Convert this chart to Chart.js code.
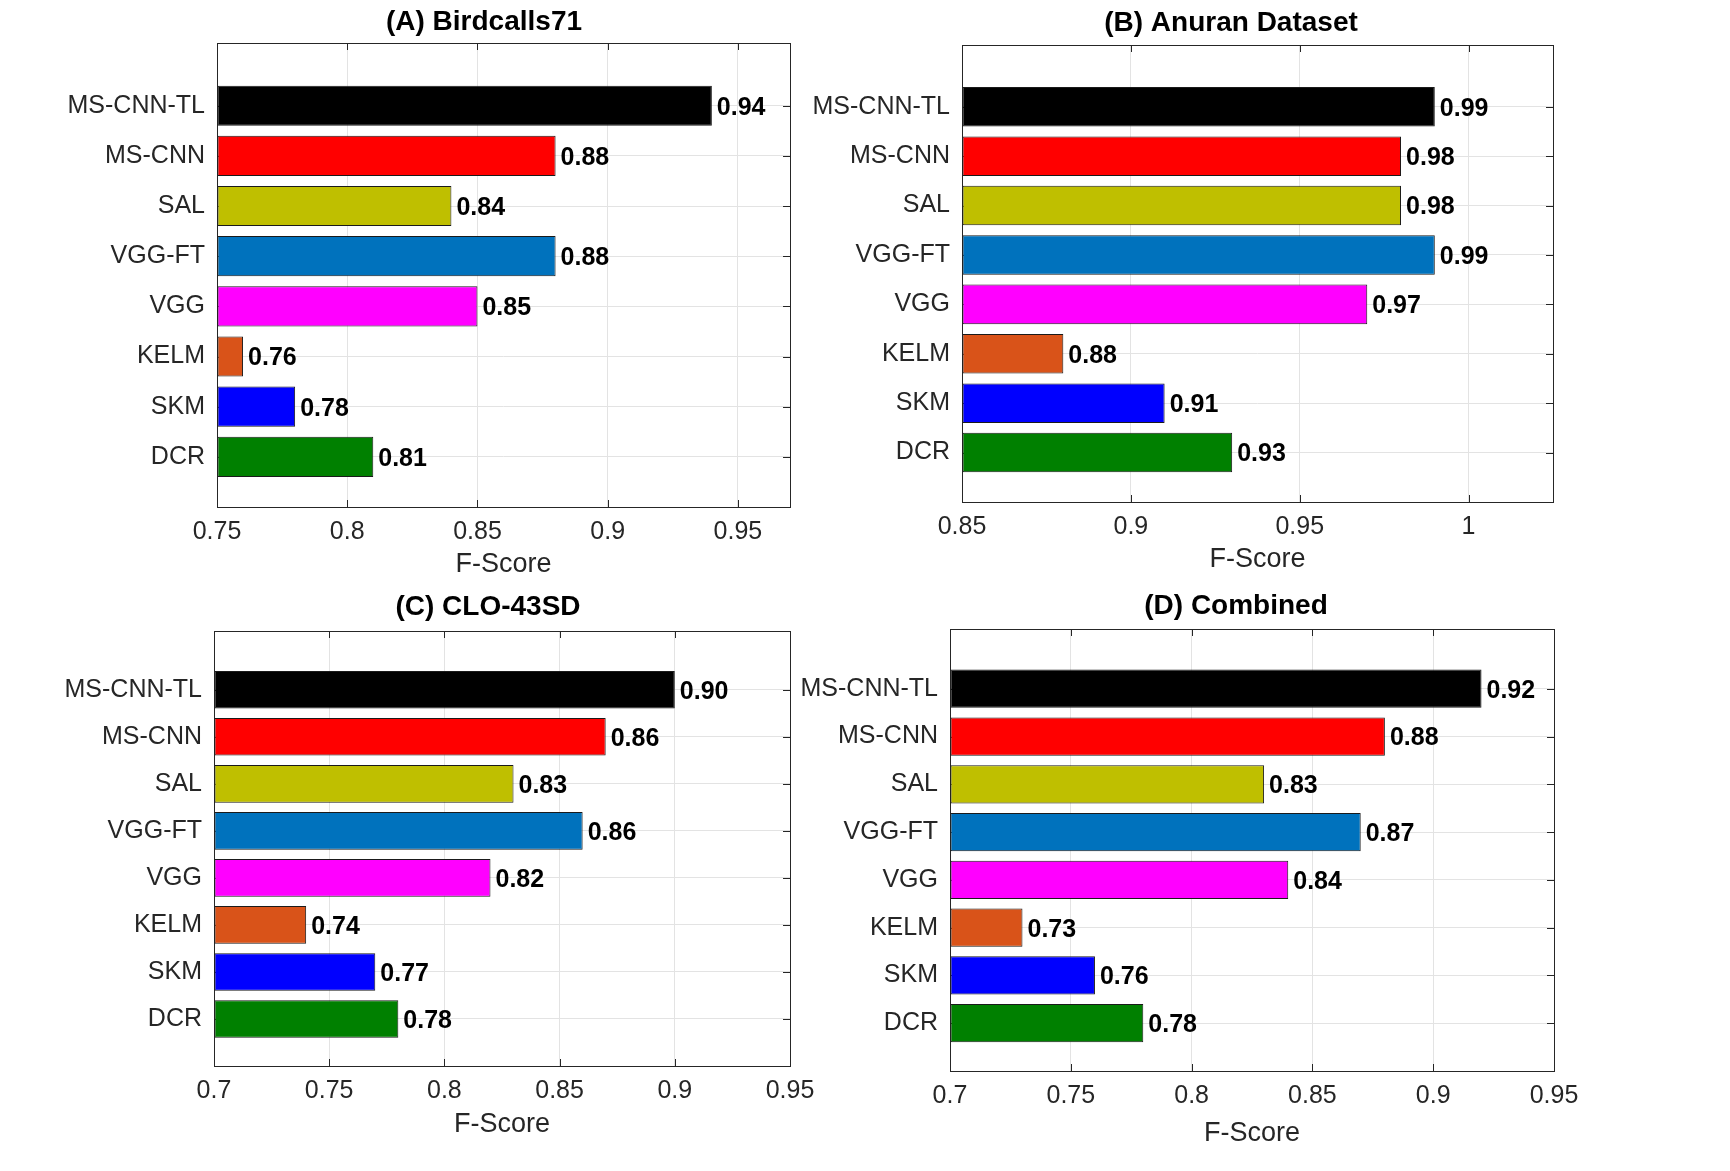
<!DOCTYPE html>
<html lang="en">
<head>
<meta charset="UTF-8">
<title>F-Score comparison</title>
<script src="https://cdn.jsdelivr.net/npm/chart.js"></script>
<style>
  body { margin: 0; background: #fff; width: 1730px; height: 1171px; position: relative; overflow: hidden; }
  canvas { position: absolute; }
</style>
</head>
<body>
<canvas id="chartA"></canvas>
<canvas id="chartB"></canvas>
<canvas id="chartC"></canvas>
<canvas id="chartD"></canvas>
<script>
// categories, top to bottom
const methods = ['MS-CNN-TL', 'MS-CNN', 'SAL', 'VGG-FT', 'VGG', 'KELM', 'SKM', 'DCR'];
const barColors = ['#000000', '#FF0000', '#BFBF00', '#0072BD', '#FF00FF', '#D95319', '#0000FF', '#008000'];

const scoresA = [0.94, 0.88, 0.84, 0.88, 0.85, 0.76, 0.78, 0.81];
const textsA  = ['0.94', '0.88', '0.84', '0.88', '0.85', '0.76', '0.78', '0.81'];
const ticksA  = [0.75, 0.8, 0.85, 0.9, 0.95];
const limitsA = [0.75, 0.97];

const scoresB = [0.99, 0.98, 0.98, 0.99, 0.97, 0.88, 0.91, 0.93];
const textsB  = ['0.99', '0.98', '0.98', '0.99', '0.97', '0.88', '0.91', '0.93'];
const ticksB  = [0.85, 0.9, 0.95, 1];
const limitsB = [0.85, 1.025];

const scoresC = [0.90, 0.87, 0.83, 0.86, 0.82, 0.74, 0.77, 0.78];
const textsC  = ['0.90', '0.86', '0.83', '0.86', '0.82', '0.74', '0.77', '0.78'];
const ticksC  = [0.7, 0.75, 0.8, 0.85, 0.9, 0.95];
const limitsC = [0.7, 0.95];

const scoresD = [0.92, 0.88, 0.83, 0.87, 0.84, 0.73, 0.76, 0.78];
const textsD  = ['0.92', '0.88', '0.83', '0.87', '0.84', '0.73', '0.76', '0.78'];
const ticksD  = [0.7, 0.75, 0.8, 0.85, 0.9, 0.95];
const limitsD = [0.7, 0.95];

const FONT = '"Liberation Sans", Arial, Helvetica, sans-serif';
const AXIS_COLOR = '#262626';

// position of each category on the value scale (top = 8, bottom = 1)
const catPos = methods.map((m, i) => methods.length - i);

// axes box, inward ticks (under the bars), value labels and panel title
const decorations = {
  id: 'decorations',
  beforeDatasetsDraw(chart) {
    const ctx = chart.ctx, a = chart.chartArea;
    const xs = chart.scales.x, ys = chart.scales.y;
    const tl = 7;
    ctx.save();
    ctx.strokeStyle = AXIS_COLOR;
    ctx.lineWidth = 1;
    ctx.beginPath();
    xs.ticks.forEach(t => {
      const px = Math.round(xs.getPixelForValue(t.value)) + 0.5;
      ctx.moveTo(px, a.top); ctx.lineTo(px, a.top + tl);
      ctx.moveTo(px, a.bottom); ctx.lineTo(px, a.bottom - tl);
    });
    ys.ticks.forEach(t => {
      const py = Math.round(ys.getPixelForValue(t.value)) + 0.5;
      ctx.moveTo(a.left, py); ctx.lineTo(a.left + tl, py);
      ctx.moveTo(a.right, py); ctx.lineTo(a.right - tl, py);
    });
    ctx.stroke();
    ctx.strokeRect(Math.round(a.left) + 0.5, Math.round(a.top) + 0.5,
                   Math.round(a.right - a.left), Math.round(a.bottom - a.top));
    ctx.restore();
  },
  afterDatasetsDraw(chart, args, opts) {
    const ctx = chart.ctx;
    const meta = chart.getDatasetMeta(0);
    ctx.save();
    ctx.font = 'bold 25px ' + FONT;
    ctx.fillStyle = '#000';
    ctx.textAlign = 'left';
    ctx.textBaseline = 'middle';
    meta.data.forEach((bar, i) => ctx.fillText(opts.texts[i], bar.x + 5, bar.y + 2));
    // title, centred a little left of the plot centre as in the original figure
    ctx.font = 'bold 28px ' + FONT;
    ctx.textAlign = 'center';
    ctx.fillText(opts.title, opts.titleX, opts.titleY);
    ctx.restore();
  }
};

function makePanel(id, cfg) {
  const canvas = document.getElementById(id);
  canvas.width = cfg.w; canvas.height = cfg.h;
  canvas.style.left = cfg.left + 'px';
  canvas.style.top = cfg.top + 'px';

  const xAxisH = cfg.xTitleOff + 27 * 1.2 / 2;

  new Chart(canvas, {
    type: 'bar',
    data: {
      datasets: [{
        data: cfg.scores.map((v, i) => ({ x: v, y: catPos[i] })),
        backgroundColor: barColors,
        borderColor: '#1a1a1a',
        borderWidth: 1,
        borderSkipped: false,
        base: cfg.limits[0],
        barPercentage: 0.8,
        categoryPercentage: 1
      }]
    },
    options: {
      indexAxis: 'y',
      responsive: false,
      devicePixelRatio: 1,
      animation: false,
      layout: {
        padding: {
          left: 0,
          top: cfg.plotT - cfg.top,
          right: cfg.left + cfg.w - cfg.plotR,
          bottom: cfg.top + cfg.h - cfg.plotB - xAxisH
        }
      },
      scales: {
        x: {
          type: 'linear',
          min: cfg.limits[0],
          max: cfg.limits[1],
          offset: false,
          afterBuildTicks: s => { s.ticks = cfg.ticks.map(v => ({ value: v })); },
          afterFit: s => { s.height = xAxisH; },
          grid: { color: '#e3e3e3', drawTicks: false, offset: false },
          border: { display: false },
          ticks: {
            padding: 10,
            color: AXIS_COLOR,
            font: { family: FONT, size: 25 },
            callback: v => String(+v.toFixed(3))
          },
          title: {
            display: true,
            text: 'F-Score',
            color: AXIS_COLOR,
            font: { family: FONT, size: 27 },
            padding: 0
          }
        },
        y: {
          type: 'linear',
          min: 0,
          max: 9.25,
          offset: false,
          afterBuildTicks: s => { s.ticks = catPos.map(v => ({ value: v })); },
          afterFit: s => { s.width = cfg.plotL - cfg.left; },
          grid: { color: '#e3e3e3', drawTicks: false, offset: false },
          border: { display: false },
          ticks: {
            padding: 12,
            color: AXIS_COLOR,
            font: { family: FONT, size: 25 },
            callback: v => methods[methods.length - v]
          }
        }
      },
      plugins: {
        legend: { display: false },
        tooltip: { enabled: false },
        title: { display: false },
        decorations: {
          texts: cfg.texts,
          title: cfg.title,
          titleX: cfg.titleX - cfg.left,
          titleY: cfg.titleY - cfg.top
        }
      }
    },
    plugins: [decorations]
  });
}

makePanel('chartA', { title: '(A) Birdcalls71', scores: scoresA, texts: textsA, ticks: ticksA, limits: limitsA,
  left: 17, top: 0, w: 933, h: 585, plotL: 217, plotT: 43, plotR: 790, plotB: 507, titleX: 484, titleY: 22, xTitleOff: 58 });
makePanel('chartB', { title: '(B) Anuran Dataset', scores: scoresB, texts: textsB, ticks: ticksB, limits: limitsB,
  left: 762, top: 0, w: 938, h: 585, plotL: 962, plotT: 45, plotR: 1553, plotB: 502, titleX: 1231, titleY: 23, xTitleOff: 58 });
makePanel('chartC', { title: '(C) CLO-43SD', scores: scoresC, texts: textsC, ticks: ticksC, limits: limitsC,
  left: 14, top: 585, w: 948, h: 586, plotL: 214, plotT: 631, plotR: 790, plotB: 1066, titleX: 488, titleY: 607, xTitleOff: 59 });
makePanel('chartD', { title: '(D) Combined', scores: scoresD, texts: textsD, ticks: ticksD, limits: limitsD,
  left: 750, top: 585, w: 972, h: 586, plotL: 950, plotT: 629, plotR: 1554, plotB: 1071, titleX: 1236, titleY: 606, xTitleOff: 63 });
</script>
</body>
</html>
